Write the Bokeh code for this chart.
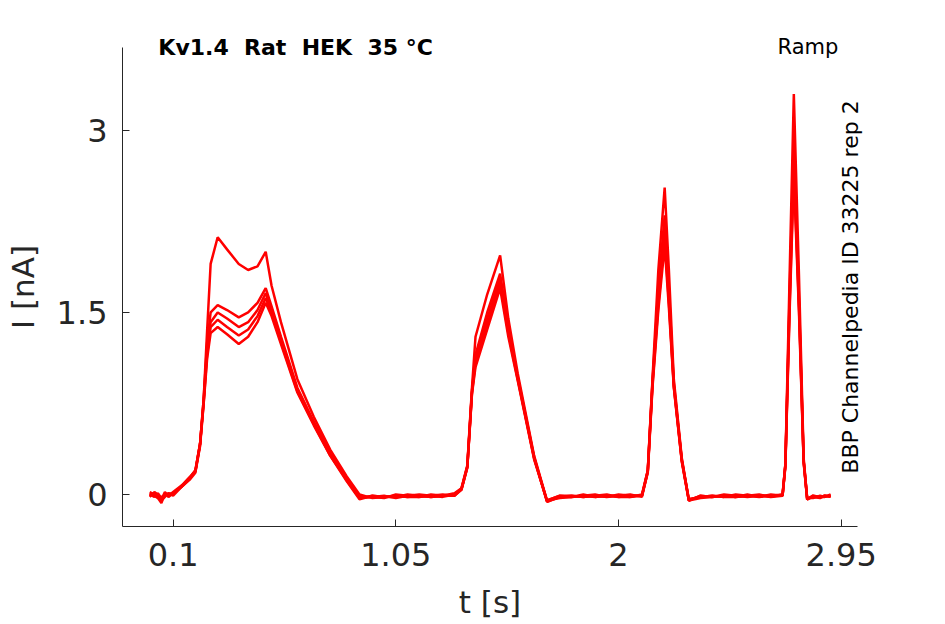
import math
from bokeh.plotting import figure
from bokeh.models import Range1d, FixedTicker, Label, LinearAxis
from bokeh.embed import file_html
from bokeh.resources import INLINE

# time knots [s]
t_s = [0.0, 0.02, 0.035, 0.05, 0.065, 0.08, 0.1,
       0.14, 0.17, 0.195,
       0.215, 0.23, 0.245, 0.26,
       0.29, 0.33, 0.38, 0.42, 0.46, 0.495,
       0.52, 0.56, 0.63, 0.70, 0.77, 0.84, 0.895,
       0.95, 1.0, 1.05, 1.1, 1.15, 1.2, 1.25, 1.30,
       1.33, 1.355, 1.375, 1.39, 1.44, 1.495,
       1.53, 1.57, 1.64, 1.695,
       1.75, 1.8, 1.85, 1.9, 1.95, 2.0, 2.05, 2.1,
       2.125, 2.145, 2.17, 2.197,
       2.215, 2.236, 2.27, 2.30,
       2.35, 2.4, 2.45, 2.5, 2.55, 2.6, 2.65, 2.70,
       2.712, 2.73, 2.748,
       2.77, 2.79, 2.805,
       2.83, 2.86, 2.88, 2.905]

# current [nA], one list per sweep
sweep_1 = [0.0, -0.02, 0.01, -0.03, 0.0, -0.01, 0.02,
           0.08, 0.14, 0.2,
           0.42, 0.78, 1.35, 1.9,
           2.12, 2.02, 1.9, 1.85, 1.88, 2.0,
           1.72, 1.42, 0.95, 0.64, 0.37, 0.15, 0.0,
           -0.03, -0.02, -0.01, -0.02, -0.01, -0.02, -0.01, 0.0,
           0.05, 0.24, 0.88, 1.3, 1.65, 1.97,
           1.45, 1.0, 0.32, -0.05,
           -0.03, -0.02, -0.01, -0.02, -0.01, -0.01, -0.02, 0.0,
           0.2, 0.95, 1.85, 2.53,
           1.85, 0.95, 0.3, -0.05,
           -0.03, -0.02, -0.01, -0.02, -0.01, -0.01, -0.01, 0.0,
           0.25, 1.8, 3.3,
           1.8, 0.3, -0.04,
           -0.02, -0.03, -0.01, -0.02]

sweep_2 = [0.01, -0.01, -0.03, -0.07, 0.01, 0.0, 0.01,
           0.07, 0.13, 0.2,
           0.42, 0.78, 1.25, 1.5,
           1.56, 1.52, 1.46, 1.5, 1.58, 1.70,
           1.55, 1.3, 0.88, 0.6, 0.34, 0.13, -0.02,
           -0.02, -0.03, 0.0, -0.01, -0.02, -0.01, 0.0, -0.01,
           0.04, 0.23, 0.86, 1.15, 1.5, 1.82,
           1.38, 0.97, 0.31, -0.06,
           -0.02, -0.01, -0.02, -0.01, -0.02, 0.0, -0.01, -0.01,
           0.2, 0.93, 1.7, 2.3,
           1.68, 0.92, 0.29, -0.04,
           -0.02, -0.01, -0.02, -0.02, 0.0, -0.02, 0.0, -0.01,
           0.25, 1.65, 2.9,
           1.62, 0.28, -0.03,
           -0.03, -0.01, -0.02, -0.01]

sweep_3 = [-0.01, 0.01, -0.02, -0.02, -0.01, 0.01, 0.0,
           0.08, 0.14, 0.19,
           0.42, 0.76, 1.2, 1.42,
           1.5, 1.45, 1.38, 1.42, 1.52, 1.66,
           1.52, 1.28, 0.86, 0.59, 0.33, 0.12, -0.03,
           -0.01, -0.02, -0.02, 0.0, -0.01, -0.02, -0.01, 0.01,
           0.05, 0.23, 0.85, 1.12, 1.45, 1.78,
           1.36, 0.96, 0.3, -0.05,
           -0.01, -0.02, -0.01, 0.0, -0.02, -0.01, 0.0, -0.02,
           0.19, 0.92, 1.62, 2.2,
           1.62, 0.9, 0.28, -0.05,
           -0.01, -0.02, 0.0, -0.01, -0.02, -0.01, -0.02, 0.0,
           0.24, 1.6, 2.8,
           1.58, 0.27, -0.04,
           -0.01, -0.02, -0.02, 0.0]

sweep_4 = [0.02, 0.0, -0.01, -0.04, 0.02, -0.02, 0.01,
           0.07, 0.13, 0.19,
           0.41, 0.75, 1.15, 1.38,
           1.44, 1.38, 1.31, 1.36, 1.47, 1.62,
           1.5, 1.26, 0.85, 0.58, 0.32, 0.12, -0.03,
           -0.02, -0.01, -0.03, -0.01, 0.0, -0.01, -0.02, 0.0,
           0.04, 0.22, 0.84, 1.08, 1.4, 1.74,
           1.33, 0.95, 0.3, -0.06,
           -0.02, -0.02, 0.0, -0.02, -0.01, -0.02, -0.01, -0.01,
           0.19, 0.9, 1.56, 2.12,
           1.58, 0.89, 0.28, -0.04,
           -0.02, -0.01, -0.02, 0.0, -0.01, -0.02, -0.01, -0.01,
           0.24, 1.55, 2.7,
           1.54, 0.27, -0.03,
           -0.02, -0.02, -0.01, -0.02]

sweep_5 = [-0.02, 0.02, 0.0, -0.05, -0.02, 0.01, -0.01,
           0.07, 0.12, 0.18,
           0.40, 0.74, 1.12, 1.33,
           1.38, 1.32, 1.24, 1.3, 1.42, 1.58,
           1.47, 1.24, 0.84, 0.57, 0.32, 0.11, -0.04,
           -0.01, -0.02, -0.01, -0.02, -0.02, 0.0, -0.01, -0.01,
           0.04, 0.22, 0.83, 1.05, 1.36, 1.70,
           1.3, 0.94, 0.29, -0.05,
           -0.01, -0.01, -0.02, -0.01, 0.0, -0.02, -0.02, -0.01,
           0.18, 0.88, 1.52, 2.05,
           1.54, 0.88, 0.27, -0.05,
           -0.01, -0.02, -0.01, -0.02, -0.01, 0.0, -0.02, -0.01,
           0.23, 1.5, 2.62,
           1.5, 0.26, -0.04,
           -0.01, -0.02, -0.01, -0.01]

sweeps = [sweep_1, sweep_2, sweep_3, sweep_4, sweep_5]

x_ticks = [0.1, 1.05, 2, 2.95]
x_tick_labels = ["0.1", "1.05", "2", "2.95"]
y_ticks = [0, 1.5, 3]
y_tick_labels = ["0", "1.5", "3"]

NB = "\u00a0"
title_text = "Kv1.4" + NB + " Rat" + NB + " HEK" + NB + " 35 °C"
protocol_text = "Ramp"
side_text = "BBP Channelpedia ID 33225 rep 2"
x_label = "t [s]"
y_label = "I [nA]"

FONT = "DejaVu Sans"
INK = "#262626"

# axes extents (data units)
X_LO, X_HI = -0.116, 3.0196
Y_LO, Y_HI = -0.264, 3.684

W, H = 940, 624
LEFT, BOTTOM = 122, 98
PX_PER_X = 234.4
PX_PER_Y = 121.33
x_end = X_LO + (W - LEFT) / PX_PER_X
y_end = Y_LO + (H - BOTTOM) / PX_PER_Y

p = figure(width=W, height=H, output_backend="svg", toolbar_location=None,
           x_range=Range1d(X_LO, x_end), y_range=Range1d(Y_LO, y_end),
           min_border_left=LEFT, min_border_right=0,
           min_border_top=0, min_border_bottom=BOTTOM)
p.outline_line_color = None
p.grid.visible = False
p.background_fill_color = "white"
p.border_fill_color = "white"

for s in sweeps:
    p.line(t_s, s, line_color="#ff0000", line_width=2.5)

for ax, ticks, labels in ((p.xaxis[0], x_ticks, x_tick_labels),
                          (p.yaxis[0], y_ticks, y_tick_labels)):
    ax.ticker = FixedTicker(ticks=ticks)
    ax.major_label_overrides = dict(zip(ticks, labels))
    ax.major_tick_in = 7
    ax.major_tick_out = 0
    ax.minor_tick_line_color = None
    ax.axis_line_color = INK
    ax.major_tick_line_color = INK
    ax.major_label_text_color = INK
    ax.major_label_text_font = FONT
    ax.major_label_text_font_size = "32px"

p.xaxis.bounds = (X_LO, X_HI)
p.yaxis.bounds = (Y_LO, Y_HI)
p.xaxis.major_label_standoff = 16
p.yaxis.major_label_standoff = 15

# axis titles, centred on the axes' own spans (placed as outer label-only axes)
X_LABEL_AT = (X_LO + X_HI) / 2
Y_LABEL_AT = (Y_LO + Y_HI) / 2
for loc, at, text, standoff, orient in (("below", X_LABEL_AT, x_label, 15, "horizontal"),
                                         ("left", Y_LABEL_AT, y_label, 12, "vertical")):
    lab_ax = LinearAxis(ticker=FixedTicker(ticks=[at]),
                        major_label_overrides={at: text},
                        axis_line_color=None, major_tick_line_color=None,
                        minor_tick_line_color=None,
                        major_tick_in=0, major_tick_out=0,
                        major_label_standoff=standoff,
                        major_label_orientation=orient,
                        major_label_text_font=FONT,
                        major_label_text_font_size="31px",
                        major_label_text_color=INK)
    p.add_layout(lab_ax, loc)

p.add_layout(Label(x=0.037, y=3.688, text=title_text,
                   text_align="left", text_baseline="alphabetic", text_font_style="bold",
                   text_font=FONT, text_font_size="22px", text_color="black"))
p.add_layout(Label(x=2.938, y=3.688, text=protocol_text,
                   text_align="right", text_baseline="alphabetic",
                   text_font=FONT, text_font_size="21px", text_color="black"))
p.add_layout(Label(x=2.989, y=1.710, text=side_text, angle=math.pi / 2,
                   text_align="center", text_baseline="middle",
                   text_font=FONT, text_font_size="22px", text_color="black"))

open("out.html", "w").write(file_html(p, INLINE))
